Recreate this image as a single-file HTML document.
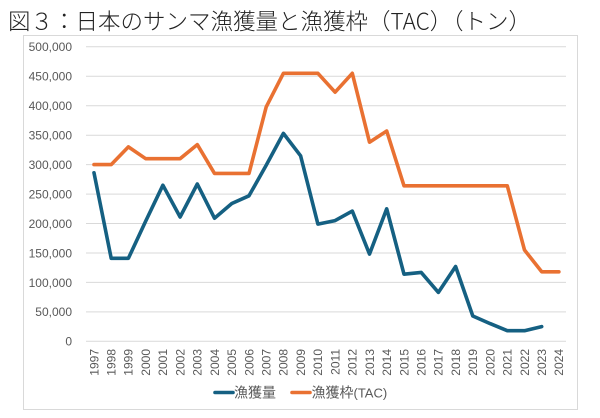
<!DOCTYPE html>
<html>
<head>
<meta charset="utf-8">
<style>
  html, body { margin:0; padding:0; background:#ffffff; }
  body { width:600px; height:418px; overflow:hidden; position:relative; }
  svg { position:absolute; left:0; top:0; }
</style>
</head>
<body>
<svg width="600" height="418" viewBox="0 0 600 418" xmlns="http://www.w3.org/2000/svg">
  <rect x="0" y="0" width="600" height="418" fill="#ffffff"/>
  <!-- Title -->
  <text x="8" y="29.5" font-family="'Noto Sans CJK JP','Liberation Sans',sans-serif" font-size="22.5" font-weight="300" fill="#222222">図３：日本のサンマ漁獲量と漁獲枠（TAC）（トン）</text>

  <!-- Chart border -->
  <rect x="23.5" y="35.5" width="554" height="374" fill="#ffffff" stroke="#d9d9d9" stroke-width="1"/>

  <!-- Gridlines -->
  <g stroke="#d9d9d9" stroke-width="1">
    <line x1="86" y1="46.8" x2="566" y2="46.8"/>
    <line x1="86" y1="76.3" x2="566" y2="76.3"/>
    <line x1="86" y1="105.7" x2="566" y2="105.7"/>
    <line x1="86" y1="135.2" x2="566" y2="135.2"/>
    <line x1="86" y1="164.6" x2="566" y2="164.6"/>
    <line x1="86" y1="194.1" x2="566" y2="194.1"/>
    <line x1="86" y1="223.5" x2="566" y2="223.5"/>
    <line x1="86" y1="253.0" x2="566" y2="253.0"/>
    <line x1="86" y1="282.4" x2="566" y2="282.4"/>
    <line x1="86" y1="311.9" x2="566" y2="311.9"/>
    <line x1="86" y1="341.3" x2="566" y2="341.3"/>
  </g>

  <!-- Y axis labels -->
  <g font-family="'Liberation Sans',sans-serif" font-size="12" fill="#595959" text-anchor="end">
    <text x="72" y="51">500,000</text>
    <text x="72" y="80.5">450,000</text>
    <text x="72" y="110">400,000</text>
    <text x="72" y="139.5">350,000</text>
    <text x="72" y="169">300,000</text>
    <text x="72" y="198.5">250,000</text>
    <text x="72" y="228">200,000</text>
    <text x="72" y="257.5">150,000</text>
    <text x="72" y="287">100,000</text>
    <text x="72" y="316">50,000</text>
    <text x="72" y="345.5">0</text>
  </g>

  <!-- X axis labels (rotated) -->
  <g font-family="'Liberation Sans',sans-serif" font-size="12" fill="#595959" text-anchor="end">
    <text transform="translate(98.3,349) rotate(-90)">1997</text>
    <text transform="translate(115.5,349) rotate(-90)">1998</text>
    <text transform="translate(132.7,349) rotate(-90)">1999</text>
    <text transform="translate(150.0,349) rotate(-90)">2000</text>
    <text transform="translate(167.2,349) rotate(-90)">2001</text>
    <text transform="translate(184.4,349) rotate(-90)">2002</text>
    <text transform="translate(201.6,349) rotate(-90)">2003</text>
    <text transform="translate(218.8,349) rotate(-90)">2004</text>
    <text transform="translate(236.1,349) rotate(-90)">2005</text>
    <text transform="translate(253.3,349) rotate(-90)">2006</text>
    <text transform="translate(270.5,349) rotate(-90)">2007</text>
    <text transform="translate(287.7,349) rotate(-90)">2008</text>
    <text transform="translate(304.9,349) rotate(-90)">2009</text>
    <text transform="translate(322.2,349) rotate(-90)">2010</text>
    <text transform="translate(339.4,349) rotate(-90)">2011</text>
    <text transform="translate(356.6,349) rotate(-90)">2012</text>
    <text transform="translate(373.8,349) rotate(-90)">2013</text>
    <text transform="translate(391.0,349) rotate(-90)">2014</text>
    <text transform="translate(408.3,349) rotate(-90)">2015</text>
    <text transform="translate(425.5,349) rotate(-90)">2016</text>
    <text transform="translate(442.7,349) rotate(-90)">2017</text>
    <text transform="translate(459.9,349) rotate(-90)">2018</text>
    <text transform="translate(477.1,349) rotate(-90)">2019</text>
    <text transform="translate(494.4,349) rotate(-90)">2020</text>
    <text transform="translate(511.6,349) rotate(-90)">2021</text>
    <text transform="translate(528.8,349) rotate(-90)">2022</text>
    <text transform="translate(546.0,349) rotate(-90)">2023</text>
    <text transform="translate(563.2,349) rotate(-90)">2024</text>
  </g>

  <!-- Series: 漁獲量 -->
  <polyline fill="none" stroke="#156082" stroke-width="3.6" stroke-linejoin="round" stroke-linecap="round"
    points="94.0,172.8 111.2,258.3 128.4,258.3 145.7,221.1 162.9,185.2 180.1,217.0 197.3,184.0 214.5,218.2 231.8,203.5 249.0,195.8 266.2,165.2 283.4,133.4 300.6,155.8 317.9,224.1 335.1,220.6 352.3,211.1 369.5,254.1 386.7,208.8 404.0,274.2 421.2,272.4 438.4,292.4 455.6,266.5 472.8,316.0 490.1,323.6 507.3,330.7 524.5,330.7 541.7,326.6"/>

  <!-- Series: 漁獲枠(TAC) -->
  <polyline fill="none" stroke="#E97132" stroke-width="3.6" stroke-linejoin="round" stroke-linecap="round"
    points="94.0,164.6 111.2,164.6 128.4,146.9 145.7,158.7 162.9,158.7 180.1,158.7 197.3,144.6 214.5,173.4 231.8,173.4 249.0,173.4 266.2,106.9 283.4,73.3 300.6,73.3 317.9,73.3 335.1,92.2 352.3,73.3 369.5,142.2 386.7,131.0 404.0,185.8 421.2,185.8 438.4,185.8 455.6,185.8 472.8,185.8 490.1,185.8 507.3,185.8 524.5,250.0 541.7,271.8 558.9,271.8"/>

  <!-- Legend -->
  <line x1="215" y1="392.5" x2="233" y2="392.5" stroke="#156082" stroke-width="3.6" stroke-linecap="round"/>
  <text x="234" y="397.5" font-family="'Liberation Sans','Noto Sans CJK JP',sans-serif" font-size="14" fill="#595959">漁獲量</text>
  <line x1="292" y1="392.5" x2="310" y2="392.5" stroke="#E97132" stroke-width="3.6" stroke-linecap="round"/>
  <text x="311.5" y="397.5" font-family="'Liberation Sans','Noto Sans CJK JP',sans-serif" font-size="14" fill="#595959">漁獲枠<tspan font-size="13">(TAC)</tspan></text>
</svg>
</body>
</html>
